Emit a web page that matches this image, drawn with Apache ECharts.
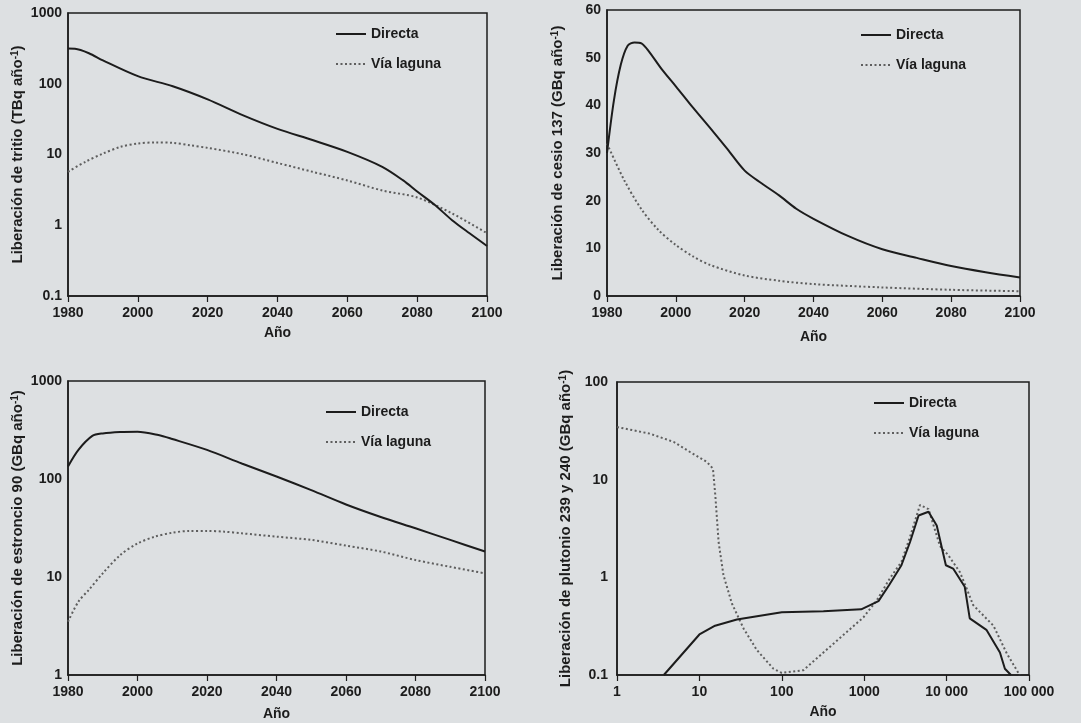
<!DOCTYPE html>
<html>
<head>
<meta charset="utf-8">
<title>Liberaciones</title>
<script src="https://cdn.jsdelivr.net/npm/echarts@6/dist/echarts.min.js"></script>
<style>
  html, body { margin: 0; padding: 0; background: #dde0e2; }
  #chart { width: 1081px; height: 723px; }
</style>
</head>
<body>
<div id="chart"></div>
<script>
// Tritio (TBq/año)
const tritioYearsD = [1980, 1982, 1986, 1990, 2000, 2010, 2020, 2030, 2040, 2050, 2060, 2070, 2076, 2080, 2085, 2090, 2095, 2100];
const tritioDirecta = [314, 312, 270, 214, 128, 92, 60, 36, 23, 16, 10.9, 6.7, 4.3, 3.0, 1.95, 1.18, 0.77, 0.51];
const tritioYearsL = [1980, 1985, 1990, 1995, 2000, 2005, 2010, 2015, 2020, 2030, 2040, 2050, 2060, 2070, 2080, 2090, 2100];
const tritioLaguna = [5.7, 7.9, 10.3, 12.8, 14.3, 14.8, 14.6, 13.5, 12.4, 10.1, 7.6, 5.7, 4.3, 3.1, 2.47, 1.47, 0.77];

// Cesio 137 (GBq/año)
const cesioYearsD = [1980, 1982, 1984, 1986, 1988, 1990, 1992, 1996, 2000, 2005, 2010, 2015, 2020, 2025, 2030, 2035, 2040, 2050, 2060, 2070, 2080, 2090, 2100];
const cesioDirecta = [30, 41, 48.5, 52.5, 53.2, 53, 51.5, 47.5, 44, 39.5, 35.2, 30.8, 26.3, 23.6, 21.1, 18.3, 16.2, 12.6, 9.8, 8.0, 6.3, 5.0, 3.9];
const cesioYearsL = [1980, 1985, 1990, 1995, 2000, 2005, 2010, 2020, 2030, 2040, 2060, 2080, 2100];
const cesioLaguna = [32, 24.3, 18.2, 13.8, 10.7, 8.3, 6.5, 4.3, 3.2, 2.5, 1.8, 1.3, 1.0];

// Estroncio 90 (GBq/año)
const estroncioYearsD = [1980, 1983, 1987, 1990, 1995, 2000, 2006, 2010, 2020, 2030, 2040, 2050, 2060, 2070, 2080, 2090, 2100];
const estroncioDirecta = [134, 198, 275, 292, 302, 304, 281, 256, 198, 144, 106, 77, 55, 41, 31.4, 23.9, 18.2];
const estroncioYearsL = [1980, 1983, 1986, 1990, 1995, 2000, 2005, 2010, 2015, 2020, 2025, 2030, 2040, 2050, 2060, 2070, 2080, 2090, 2100];
const estroncioLaguna = [3.5, 5.6, 7.4, 10.9, 16.7, 22, 25.8, 28.3, 29.5, 29.5, 29, 27.9, 25.8, 23.9, 20.9, 18.2, 14.9, 12.7, 10.9];

// Plutonio 239 y 240 (GBq/año), eje de años logarítmico
const plutonioYearsD = [3.7, 10, 15.5, 28.5, 100, 320, 920, 1490, 2000, 2830, 3600, 4570, 6030, 7590, 9800, 12000, 16600, 19100, 30400, 44400, 51000, 60400];
const plutonioDirecta = [0.1, 0.26, 0.32, 0.37, 0.44, 0.45, 0.47, 0.57, 0.83, 1.33, 2.3, 4.3, 4.7, 3.4, 1.33, 1.23, 0.80, 0.38, 0.29, 0.17, 0.116, 0.1];
const plutonioYearsL = [1, 2.5, 4.9, 7.7, 12.3, 14.6, 15.6, 17.1, 19.6, 24.8, 34.3, 49.8, 79, 100, 183, 320, 613, 980, 1420, 2040, 2830, 3600, 4750, 6030, 8300, 10500, 14500, 17500, 21000, 37000, 53800, 77000];
const plutonioLaguna = [34.6, 29.6, 24.3, 19.2, 15.2, 13, 6.9, 2.3, 1.05, 0.54, 0.30, 0.18, 0.116, 0.105, 0.112, 0.17, 0.275, 0.39, 0.58, 0.97, 1.44, 2.6, 5.5, 5.0, 2.1, 1.68, 1.13, 0.77, 0.52, 0.32, 0.166, 0.1];

const yearTicks = [1980, 2100, 20];
const plutonioXRange = [1, 100000];

const INK = '#1c1c1c';
const DOT = '#5e5e5e';
const FONT = "'Liberation Sans', Arial, sans-serif";

const zip = (xs, ys) => xs.map((x, i) => [x, ys[i]]);

// sin separador de miles, salvo "10 000" y "100 000"
const plain = v => String(+(+v).toPrecision(6));
const spaced = v => {
    const s = plain(v);
    return v >= 10000 ? s.replace(/\B(?=(\d{3})+(?!\d))/g, ' ') : s;
};

const grids = [
    { left: 68, top: 13, width: 419, height: 283 },
    { left: 607, top: 10, width: 413, height: 286 },
    { left: 68, top: 381, width: 417, height: 294 },
    { left: 617, top: 382, width: 412, height: 293 }
];

const legendPos = [
    { left: 335, top: 27 },
    { left: 860, top: 28 },
    { left: 325, top: 405 },
    { left: 873, top: 396 }
];

const yNames = [
    'Liberación de tritio (TBq año{sup|-1})',
    'Liberación de cesio 137 (GBq año{sup|-1})',
    'Liberación de estroncio 90 (GBq año{sup|-1})',
    'Liberación de plutonio 239 y 240 (GBq año{sup|-1})'
];

const labelStyle = { color: INK, fontSize: 14, fontWeight: 'bold', fontFamily: FONT };

function xAxis(i, extra) {
    return Object.assign({
        gridIndex: i,
        type: 'value',
        min: yearTicks[0], max: yearTicks[1], interval: yearTicks[2],
        name: 'Año', nameLocation: 'middle', nameGap: 29,
        nameTextStyle: { color: INK, fontSize: 14, fontWeight: 'bold', fontFamily: FONT },
        axisLine: { show: true, lineStyle: { color: INK, width: 1.5 } },
        axisTick: { show: true, length: 6, inside: false, lineStyle: { color: INK, width: 1.2 } },
        axisLabel: Object.assign({ margin: 10, formatter: plain }, labelStyle),
        splitLine: { show: false }
    }, extra || {});
}

function yAxis(i, extra) {
    return Object.assign({
        gridIndex: i,
        name: yNames[i], nameLocation: 'middle', nameGap: 43,
        nameTextStyle: {
            color: INK, fontSize: 15, fontWeight: 'bold', fontFamily: FONT,
            rich: { sup: { fontSize: 10, fontWeight: 'bold', verticalAlign: 'top', color: INK, fontFamily: FONT, lineHeight: 9 } }
        },
        axisLine: { show: true, lineStyle: { color: INK, width: 1.5 } },
        axisTick: { show: false },
        axisLabel: Object.assign({ margin: 6, formatter: plain }, labelStyle),
        splitLine: { show: false }
    }, extra || {});
}

function directa(i, data) {
    return {
        name: 'Directa', type: 'line', xAxisIndex: i, yAxisIndex: i,
        data: data, symbol: 'none', smooth: i === 3 ? false : 0.3,
        lineStyle: { color: INK, width: 2 }, itemStyle: { color: INK },
        z: 3
    };
}

function laguna(i, data) {
    return {
        name: 'Vía laguna', type: 'line', xAxisIndex: i, yAxisIndex: i,
        data: data, symbol: 'none', smooth: i === 3 ? false : 0.3,
        lineStyle: { color: DOT, width: 2, type: [2, 2.5] }, itemStyle: { color: DOT },
        z: 2
    };
}

const chart = echarts.init(document.getElementById('chart'));
chart.setOption({
    backgroundColor: '#dde0e2',
    animation: false,
    textStyle: { fontFamily: FONT },
    grid: grids.map(g => Object.assign({ show: true, borderColor: INK, borderWidth: 1.5, backgroundColor: 'transparent' }, g)),
    legend: legendPos.map(p => ({
        left: p.left, top: p.top, orient: 'vertical',
        data: ['Directa', 'Vía laguna'],
        itemWidth: 30, itemHeight: 14, itemGap: 16, padding: 0,
        selectedMode: false,
        itemStyle: { opacity: 0 },
        textStyle: { color: INK, fontSize: 14, fontWeight: 'bold', fontFamily: FONT }
    })),
    xAxis: [
        xAxis(0, { nameGap: 30 }),
        xAxis(1, { nameGap: 34 }),
        xAxis(2, { nameGap: 32 }),
        xAxis(3, {
            type: 'log', logBase: 10, min: plutonioXRange[0], max: plutonioXRange[1], interval: null,
            nameGap: 30,
            axisLabel: Object.assign({ margin: 10, formatter: spaced }, labelStyle)
        })
    ],
    yAxis: [
        yAxis(0, { type: 'log', logBase: 10, min: 0.1, max: 1000 }),
        yAxis(1, { type: 'value', min: 0, max: 60, interval: 10, nameGap: 42 }),
        yAxis(2, { type: 'log', logBase: 10, min: 1, max: 1000 }),
        yAxis(3, { type: 'log', logBase: 10, min: 0.1, max: 100, nameGap: 44, axisLabel: Object.assign({ margin: 9, formatter: plain }, labelStyle) })
    ],
    series: [
        directa(0, zip(tritioYearsD, tritioDirecta)),
        laguna(0, zip(tritioYearsL, tritioLaguna)),
        directa(1, zip(cesioYearsD, cesioDirecta)),
        laguna(1, zip(cesioYearsL, cesioLaguna)),
        directa(2, zip(estroncioYearsD, estroncioDirecta)),
        laguna(2, zip(estroncioYearsL, estroncioLaguna)),
        directa(3, zip(plutonioYearsD, plutonioDirecta)),
        laguna(3, zip(plutonioYearsL, plutonioLaguna))
    ]
});
</script>
</body>
</html>
